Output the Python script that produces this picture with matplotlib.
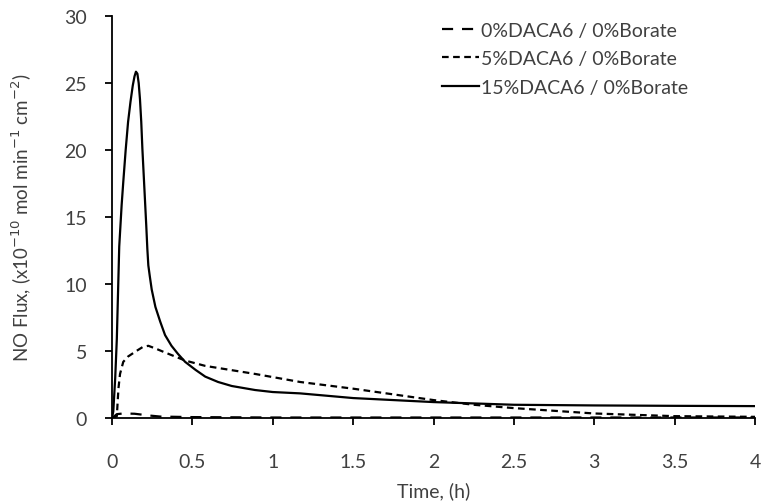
import matplotlib.pyplot as plt

plt.rcParams['font.family'] = ['Lato', 'DejaVu Sans']

# 15% DACA6 / 0% Borate
t15 = [0, 0.008, 0.02, 0.03, 0.045, 0.06, 0.07, 0.085, 0.10, 0.115, 0.129, 0.14,
       0.149, 0.158, 0.166, 0.174, 0.182, 0.189, 0.197, 0.205, 0.213, 0.22,
       0.226, 0.235, 0.247, 0.27, 0.30, 0.33, 0.37, 0.41, 0.455, 0.52, 0.58,
       0.66, 0.745, 0.89, 1.0, 1.17, 1.5, 2.0, 2.5, 3.0, 3.5, 4.0]
f15 = [0, 0.5, 3.0, 5.9, 12.8, 15.9, 17.6, 20.0, 22.1, 23.6, 24.8, 25.5,
       25.85, 25.7, 25.0, 23.8, 22.1, 20.1, 18.2, 16.3, 14.4, 12.6,
       11.4, 10.6, 9.6, 8.3, 7.2, 6.2, 5.4, 4.8, 4.2, 3.6, 3.1,
       2.7, 2.4, 2.1, 1.95, 1.85, 1.5, 1.2, 1.0, 0.95, 0.92, 0.9]

# 5% DACA6 / 0% Borate
t5 = [0, 0.03, 0.04, 0.05, 0.07, 0.1, 0.15, 0.19, 0.226, 0.27, 0.33, 0.455,
      0.58, 0.89, 1.17, 1.5, 2.0, 2.25, 2.5, 3.0, 3.5, 4.0]
f5 = [0, 0.15, 2.2, 3.3, 4.2, 4.6, 5.0, 5.3, 5.4, 5.2, 4.9, 4.3,
      3.9, 3.3, 2.7, 2.2, 1.35, 1.0, 0.75, 0.35, 0.15, 0.1]

# 0% DACA6 / 0% Borate
t0 = [0, 0.03, 0.07, 0.14, 0.23, 0.3, 0.5, 1.0, 2.0, 3.0, 4.0]
f0 = [0, 0.3, 0.35, 0.33, 0.2, 0.12, 0.08, 0.05, 0.05, 0.05, 0.05]

labels = ['0%DACA6 / 0%Borate', '5%DACA6 / 0%Borate', '15%DACA6 / 0%Borate']
xticks = [0, 0.5, 1, 1.5, 2, 2.5, 3, 3.5, 4]
yticks = [0, 5, 10, 15, 20, 25, 30]

fig = plt.figure(figsize=(7.65, 5.02), dpi=100)
ax = fig.add_axes([0.1464, 0.165, 0.8406, 0.801])

ax.plot(t0, f0, color='black', lw=1.6, dashes=(5, 4), label=labels[0])
ax.plot(t5, f5, color='black', lw=1.6, dashes=(3, 2), label=labels[1])
ax.plot(t15, f15, color='black', lw=1.6, label=labels[2])

ax.set_xlim(0, 4)
ax.set_ylim(0, 30)
ax.set_xticks(xticks)
ax.set_xticklabels([f'{v:g}' for v in xticks])
ax.set_yticks(yticks)

txt = '#404040'
for s in ['top', 'right']:
    ax.spines[s].set_visible(False)
for s in ['left', 'bottom']:
    ax.spines[s].set_linewidth(1.3)
ax.tick_params(direction='out', length=5, width=1.3, colors='black',
               labelcolor=txt, labelsize=14, pad=13)
ax.tick_params(axis='x', pad=20)

ax.set_xlabel('Time, (h)', fontsize=14, color=txt, labelpad=8)
ax.set_ylabel('NO Flux, (x10$^{-10}$ mol min$^{-1}$ cm$^{-2}$)', fontsize=13.5,
              color=txt, labelpad=22)

leg = ax.legend(loc='upper left', bbox_to_anchor=(0.555, 0.99),
                bbox_transform=fig.transFigure, frameon=False, fontsize=14,
                handlelength=1.9, handletextpad=0.1, labelspacing=0.6)
for t in leg.get_texts():
    t.set_color(txt)

fig.savefig('out.png', dpi=100)
